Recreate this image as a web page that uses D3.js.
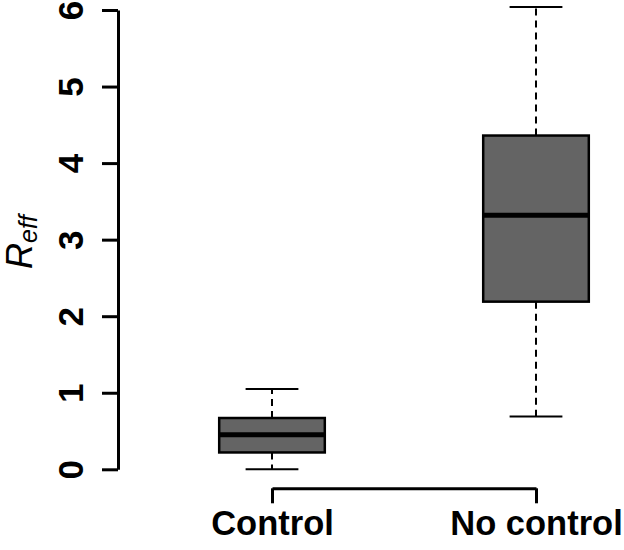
<!DOCTYPE html>
<html>

<head>
  <meta charset="utf-8">
  <title>reff-boxplot</title>
  <style>
    * {
      padding: 0;
      margin: 0;
    }

    html,
    body {
      width: 100%;
      height: 100%;
      background: #fff;
    }

    svg text {
      font-family: 'Liberation Sans', Arial, Helvetica, sans-serif;
    }

    .box {
      fill: #646464;
      stroke: #000;
      stroke-width: 2.5;
    }

    .median {
      stroke: #000;
      stroke-width: 5;
    }

    .whisker {
      stroke: #000;
      stroke-width: 2;
      stroke-dasharray: 7 5;
    }

    .cap {
      stroke: #000;
      stroke-width: 2;
    }
  </style>
</head>

<body>
  <svg id="svg"></svg>
  <script src="https://cdnjs.cloudflare.com/ajax/libs/d3/7.8.5/d3.min.js"></script>

  <script>
    const groups = ['Control', 'No control'];
    const lowerWhisker = [0.00, 0.69];
    const lowerQuartile = [0.22, 2.19];
    const medians = [0.45, 3.32];
    const upperQuartile = [0.67, 4.36];
    const upperWhisker = [1.05, 6.04];
    const yTicks = [0, 1, 2, 3, 4, 5, 6];

    const dimension = {
      width: 624,
      height: 550,
      yAxisX: 118,
      xAxisY: 488.3
    }

    const data = groups.map((g, i) => ({
      group: g,
      lo: lowerWhisker[i],
      q1: lowerQuartile[i],
      med: medians[i],
      q3: upperQuartile[i],
      hi: upperWhisker[i]
    }));

    const svg = d3.select('#svg').attr('width', dimension.width).attr('height', dimension.height);

    const xScale = d3.scalePoint().domain(groups).range([272, 536]);
    const yScale = d3.scaleLinear().domain([0, 6]).range([469.3, 10]);

    const step = xScale.range()[1] - xScale.range()[0];
    const boxW = step * 0.4;
    const capW = boxW / 2;

    // y axis, labels turned like R's las=0
    const yAxis = svg.append('g')
      .attr('transform', `translate(${dimension.yAxisX}, 0)`)
      .call(d3.axisLeft(yScale).tickValues(yTicks).tickSize(16).tickSizeOuter(0).tickFormat(d3.format('d')));
    yAxis.select('.domain').attr('stroke-width', 3);
    yAxis.selectAll('.tick line').attr('stroke-width', 3);
    yAxis.selectAll('.tick text')
      .attr('transform', 'rotate(-90)')
      .attr('x', 0)
      .attr('y', -35)
      .attr('dy', 0)
      .attr('text-anchor', 'middle')
      .attr('fill', '#000')
      .style('font-size', '35px')
      .style('font-weight', 'bold');

    const xAxis = svg.append('g')
      .attr('transform', `translate(0, ${dimension.xAxisY})`)
      .call(d3.axisBottom(xScale).tickSize(15).tickSizeOuter(0));
    xAxis.select('.domain').attr('stroke-width', 3);
    xAxis.selectAll('.tick line').attr('stroke-width', 3);
    xAxis.selectAll('.tick text')
      .attr('y', 47)
      .attr('dy', 0)
      .attr('fill', '#000')
      .style('font-size', '34.5px')
      .style('font-weight', 'bold');

    // y title R_eff
    const title = svg.append('text')
      .attr('transform', 'translate(32, 242) rotate(-90)')
      .attr('text-anchor', 'middle')
      .style('font-style', 'italic');
    title.append('tspan').text('R').style('font-size', '36px');
    title.append('tspan').text('eff').attr('dy', 5).style('font-size', '25px');

    const boxes = svg.selectAll('.boxgroup')
      .data(data)
      .enter()
      .append('g')
      .attr('class', 'boxgroup');

    boxes.append('line')
      .attr('class', 'whisker')
      .attr('x1', d => xScale(d.group))
      .attr('x2', d => xScale(d.group))
      .attr('y1', d => yScale(d.q3))
      .attr('y2', d => yScale(d.hi));

    boxes.append('line')
      .attr('class', 'whisker')
      .attr('x1', d => xScale(d.group))
      .attr('x2', d => xScale(d.group))
      .attr('y1', d => yScale(d.q1))
      .attr('y2', d => yScale(d.lo));

    boxes.append('line')
      .attr('class', 'cap')
      .attr('x1', d => xScale(d.group) - capW / 2)
      .attr('x2', d => xScale(d.group) + capW / 2)
      .attr('y1', d => yScale(d.hi))
      .attr('y2', d => yScale(d.hi));

    boxes.append('line')
      .attr('class', 'cap')
      .attr('x1', d => xScale(d.group) - capW / 2)
      .attr('x2', d => xScale(d.group) + capW / 2)
      .attr('y1', d => yScale(d.lo))
      .attr('y2', d => yScale(d.lo));

    boxes.append('rect')
      .attr('class', 'box')
      .attr('x', d => xScale(d.group) - boxW / 2)
      .attr('width', boxW)
      .attr('y', d => yScale(d.q3))
      .attr('height', d => yScale(d.q1) - yScale(d.q3));

    boxes.append('line')
      .attr('class', 'median')
      .attr('x1', d => xScale(d.group) - boxW / 2)
      .attr('x2', d => xScale(d.group) + boxW / 2)
      .attr('y1', d => yScale(d.med))
      .attr('y2', d => yScale(d.med));
  </script>

</body>

</html>
